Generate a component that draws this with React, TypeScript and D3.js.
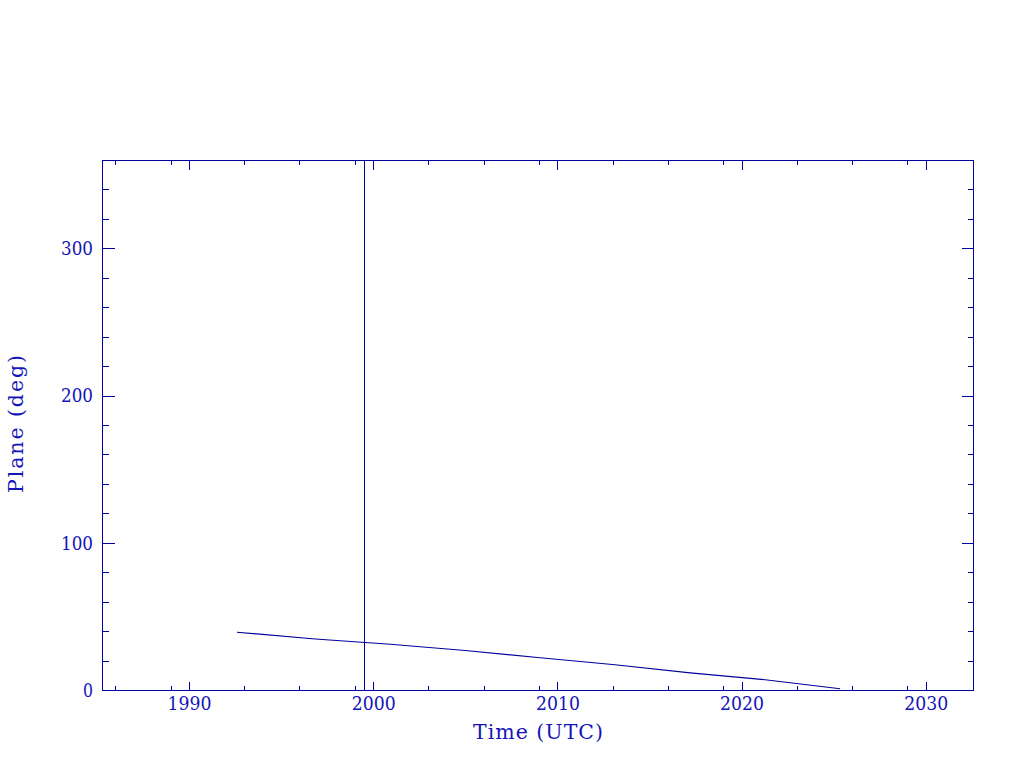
import React from "react";
import * as d3 from "d3";

const years = [1992.58, 1996.83, 2000.9, 2004.97, 2009.04, 2013.1, 2017.18, 2021.25, 2025.32];
const planeDeg = [39.6, 35.0, 31.45, 27.2, 22.2, 17.5, 12.0, 7.3, 1.15];
const markerYears = [1999.5];
const xTickLabels = [1990, 2000, 2010, 2020, 2030];
const yTickLabels = [0, 100, 200, 300];

const W = 1024, H = 768;
const left = 102.5, right = 973.5, top = 160.5, bottom = 690.5;
const lineColor = "#00009c";
const textColor = "#1414b8";
const font = "'DejaVu Serif', serif";

export default function App() {
  const x = d3.scaleLinear().domain([1985.28, 2032.56]).range([left, right]);
  const y = d3.scaleLinear().domain([0, 360]).range([bottom, top]);

  const xMinor: number[] = [];
  for (let dec = 1980; dec <= 2030; dec += 10) {
    [3, 6, 9].forEach((o) => {
      const v = dec + o;
      if (v > 1985.28 && v < 2032.56) xMinor.push(v);
    });
  }
  const yMinor = d3.range(0, 361, 20).filter((v) => v % 100 !== 0);

  const line = d3.line<number>().x((_, i) => x(years[i])).y((d) => y(d));
  const digitW = 11;

  return (
    <svg width={W} height={H} style={{ position: "absolute", left: 0, top: 0, background: "#fff" }}>
      <rect x={0} y={0} width={W} height={H} fill="#fff" />
      <g stroke={lineColor} strokeWidth={1} fill="none" shapeRendering="crispEdges">
        <rect x={left} y={top} width={right - left} height={bottom - top} />
        {xTickLabels.map((v) => (
          <g key={"xm" + v}>
            <line x1={x(v)} x2={x(v)} y1={bottom} y2={bottom - 9} />
            <line x1={x(v)} x2={x(v)} y1={top} y2={top + 9} />
          </g>
        ))}
        {xMinor.map((v) => (
          <g key={"xn" + v}>
            <line x1={x(v)} x2={x(v)} y1={bottom} y2={bottom - 4.5} />
            <line x1={x(v)} x2={x(v)} y1={top} y2={top + 4.5} />
          </g>
        ))}
        {yTickLabels.map((v) => (
          <g key={"ym" + v}>
            <line x1={left} x2={left + 12} y1={y(v)} y2={y(v)} />
            <line x1={right} x2={right - 12} y1={y(v)} y2={y(v)} />
          </g>
        ))}
        {yMinor.map((v) => (
          <g key={"yn" + v}>
            <line x1={left} x2={left + 6} y1={y(v)} y2={y(v)} />
            <line x1={right} x2={right - 6} y1={y(v)} y2={y(v)} />
          </g>
        ))}
        {markerYears.map((v) => (
          <line key={"mk" + v} x1={x(v)} x2={x(v)} y1={top} y2={bottom} />
        ))}
      </g>
      <path d={line(planeDeg) || ""} stroke={lineColor} strokeWidth={1.1} fill="none" />
      <g fill={textColor} fontFamily={font} fontSize={18}>
        {xTickLabels.map((v) => {
          const w = String(v).length * digitW;
          return (
            <text key={"xl" + v} x={x(v) - w / 2} y={710} textLength={w} lengthAdjust="spacingAndGlyphs">{v}</text>
          );
        })}
        {yTickLabels.map((v) => {
          const w = String(v).length * digitW - 1;
          return (
            <text key={"yl" + v} x={93 - w} y={y(v) + 6.3} textLength={w} lengthAdjust="spacingAndGlyphs">{v}</text>
          );
        })}
      </g>
      <text x={473} y={739} fill={textColor} fontFamily={font} fontSize={20.5} textLength={130} lengthAdjust="spacing">Time (UTC)</text>
      <text
        transform={`translate(22.5,493) rotate(-90)`}
        fill={textColor}
        fontFamily={font}
        fontSize={20.5}
        textLength={138}
        lengthAdjust="spacing"
      >Plane (deg)</text>
    </svg>
  );
}
